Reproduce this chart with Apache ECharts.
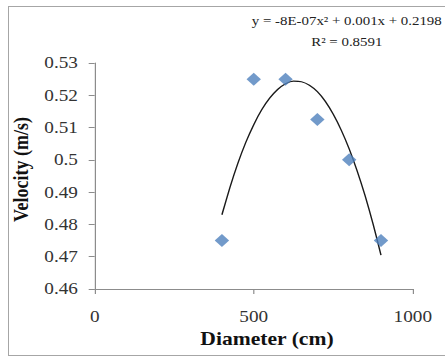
<!DOCTYPE html>
<html>
<head>
<meta charset="utf-8">
<script src="https://cdn.jsdelivr.net/npm/echarts@6/dist/echarts.min.js"></script>
<style>
  html, body { margin: 0; padding: 0; background: #fff; overflow: hidden; }
  /* the reference is stretched sideways a little, so draw narrow and scale */
  #chart { width: 371px; height: 358px; transform: scaleX(1.2); transform-origin: 0 0; }
  /* chart area frame: only left, top and bottom sides show in the crop */
  #frame {
    position: absolute; left: 8px; top: 6px; width: 460px; height: 348px;
    border: 1.5px solid #a6a6a6; border-right: none; pointer-events: none;
  }
</style>
</head>
<body>
<div id="chart"></div>
<div id="frame"></div>
<script>
// measured points
const diameters = [400, 500, 600, 700, 800, 900];
const velocities = [0.475, 0.525, 0.525, 0.5125, 0.5, 0.475];

// polynomial trendline
const trendX = [400, 425, 450, 475, 500, 525, 550, 575, 600, 625, 650,
                675, 700, 725, 750, 775, 800, 825, 850, 875, 900];
const trendY = [0.4830, 0.4914, 0.4989, 0.5054, 0.5109, 0.5155, 0.5191, 0.5218, 0.5236, 0.5244, 0.5242,
                0.5231, 0.5211, 0.5181, 0.5141, 0.5092, 0.5034, 0.4966, 0.4889, 0.4802, 0.4705];

const equationText = 'y = -8E-07x\u00b2 + 0.001x + 0.2198';
const r2Text = 'R\u00b2 = 0.8591';

const xAxisName = 'Diameter (cm)';
const yAxisName = 'Velocity (m/s)';

const serif = '"Liberation Serif", "Times New Roman", serif';
const axisGray = '#8c8c8c';

const chart = echarts.init(document.getElementById('chart'), null, { renderer: 'svg' });

chart.setOption({
  animation: false,
  title: {
    text: equationText + '\n' + r2Text,
    left: 284,
    top: 5,
    textAlign: 'center',
    textStyle: {
      fontFamily: serif,
      fontSize: 12.4,
      fontWeight: 'normal',
      color: '#222',
      lineHeight: 21,
    },
  },
  grid: {
    left: 77,
    right: 27,
    top: 63,
    bottom: 69,
  },
  xAxis: {
    type: 'value',
    min: 0,
    max: 1000,
    interval: 500,
    name: xAxisName,
    nameLocation: 'middle',
    nameGap: 29,
    nameTextStyle: {
      fontFamily: serif,
      fontSize: 18,
      fontWeight: 'bold',
      color: '#111',
      padding: [0, 0, 0, 22],
    },
    axisLine: { show: true, lineStyle: { color: axisGray, width: 1 } },
    axisTick: { show: true, inside: false, length: 5, lineStyle: { color: axisGray } },
    axisLabel: {
      fontFamily: serif, fontSize: 16, color: '#333', margin: 20,
      formatter: (v) => String(v),
    },
    splitLine: { show: false },
  },
  yAxis: {
    type: 'value',
    min: 0.46,
    max: 0.53,
    interval: 0.01,
    name: yAxisName,
    nameLocation: 'middle',
    nameGap: 46,
    nameTextStyle: {
      fontFamily: serif,
      fontSize: 18,
      fontWeight: 'bold',
      color: '#111',
      padding: [0, 0, 0, 13],
    },
    axisLine: { show: true, lineStyle: { color: axisGray, width: 1 } },
    axisTick: { show: true, inside: false, length: 5, lineStyle: { color: axisGray } },
    axisLabel: { fontFamily: serif, fontSize: 16, color: '#333', margin: 14 },
    splitLine: { show: false },
  },
  series: [
    {
      type: 'line',
      data: trendX.map((x, i) => [x, trendY[i]]),
      smooth: 0.2,
      showSymbol: false,
      lineStyle: { color: '#1a1a1a', width: 1.2 },
      z: 2,
    },
    {
      type: 'scatter',
      data: diameters.map((d, i) => [d, velocities[i]]),
      symbol: 'diamond',
      symbolSize: [12, 13],
      itemStyle: { color: '#4F81BD' },
      z: 3,
    },
  ],
});
</script>
</body>
</html>
